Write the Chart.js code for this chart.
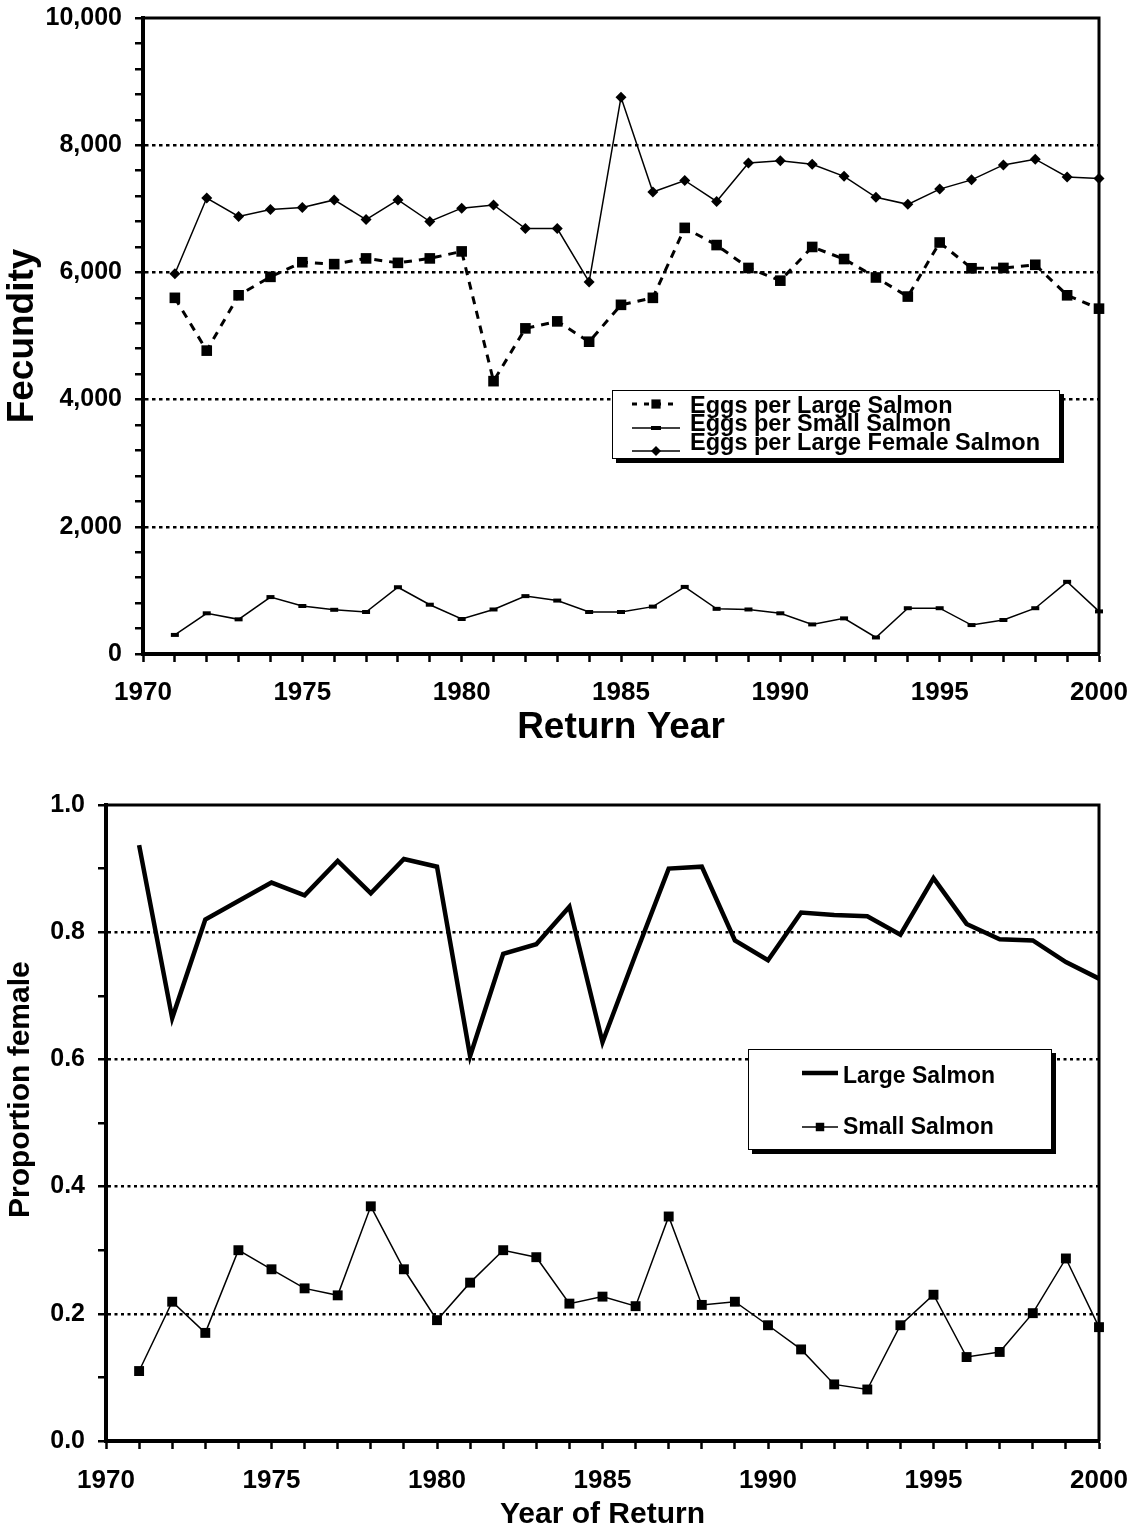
<!DOCTYPE html>
<html>
<head>
<meta charset="utf-8">
<script src="https://cdn.jsdelivr.net/npm/chart.js@4.4.1/dist/chart.umd.min.js"></script>
<style>
html,body{margin:0;padding:0;background:#fff;}
#wrap{position:relative;width:1134px;height:1533px;background:#fff;}
.holder{position:absolute;left:0;width:1134px;}
canvas{display:block;}
</style>
</head>
<body>
<div id="wrap">
  <div class="holder" style="top:0;height:770px;"><canvas id="c1" width="1134" height="770"></canvas></div>
  <div class="holder" style="top:770px;height:763px;"><canvas id="c2" width="1134" height="763"></canvas></div>
</div>
<script>
// ---------- DATA ----------
const years = [1971,1972,1973,1974,1975,1976,1977,1978,1979,1980,
               1981,1982,1983,1984,1985,1986,1987,1988,1989,1990,
               1991,1992,1993,1994,1995,1996,1997,1998,1999,2000];

// Top chart: fecundity (eggs)
const eggsPerLargeSalmon = [5600,4770,5640,5930,6160,6130,6220,6150,6220,6330,
                            4290,5120,5230,4910,5490,5600,6700,6430,6070,5870,
                            6400,6210,5920,5620,6470,6065,6070,6120,5640,5430];
const eggsPerSmallSalmon = [300,640,545,895,755,695,660,1050,775,550,
                            700,910,840,660,660,745,1055,710,700,640,
                            465,560,260,720,720,455,535,720,1135,670];
const eggsPerLargeFemaleSalmon = [5980,7170,6880,6990,7020,7140,6830,7140,6800,7010,
                                  7060,6690,6690,5850,8755,7265,7445,7115,7720,7755,
                                  7700,7510,7180,7070,7310,7455,7690,7780,7500,7475];

// Bottom chart: proportion female
const propFemaleLarge = [0.937,0.665,0.820,0.849,0.878,0.858,0.912,0.861,0.915,0.903,
                         0.605,0.766,0.781,0.840,0.627,0.765,0.900,0.903,0.787,0.756,
                         0.831,0.827,0.825,0.796,0.885,0.813,0.789,0.787,0.753,0.727];
const propFemaleSmall = [0.110,0.219,0.170,0.300,0.270,0.240,0.229,0.369,0.270,0.190,
                         0.249,0.300,0.289,0.216,0.227,0.212,0.353,0.214,0.219,0.182,
                         0.144,0.089,0.081,0.182,0.230,0.132,0.140,0.201,0.287,0.179];

// Axis tick definitions
const xMin = 1970, xMax = 2000, xLabelEvery = 5;
const fecMin = 0, fecMax = 10000, fecMinorStep = 400, fecMajorStep = 2000;
const propMin = 0, propMax = 1, propMinorStep = 0.1, propMajorEvery = 2;

// ---------- HELPERS ----------
const FONT = '"Liberation Sans", Arial, Helvetica, sans-serif';
Chart.defaults.font.family = FONT;
Chart.defaults.color = '#000';

const pts = (arr) => years.map((y, i) => ({x: y, y: arr[i]}));

function noPad(s) { s.paddingTop = 0; s.paddingBottom = 0; s.paddingLeft = 0; s.paddingRight = 0; }

function drawMarker(ctx, style, x, y, r, bw) {
  ctx.save();
  ctx.fillStyle = '#000';
  ctx.strokeStyle = '#000';
  ctx.setLineDash([]);
  ctx.beginPath();
  if (style === 'rect') {
    const s = r * Math.SQRT1_2;
    ctx.rect(x - s, y - s, 2 * s, 2 * s);
    ctx.fill();
  } else if (style === 'rectRot') {
    ctx.moveTo(x - r, y); ctx.lineTo(x, y - r); ctx.lineTo(x + r, y); ctx.lineTo(x, y + r);
    ctx.closePath(); ctx.fill();
  } else if (style === 'line') {
    ctx.lineWidth = bw;
    ctx.moveTo(x - r, y); ctx.lineTo(x + r, y); ctx.stroke();
  }
  ctx.restore();
}

// frame (top & right border) plugin
const framePlugin = {
  id: 'frame',
  beforeDatasetsDraw(chart, args, opts) {
    const {ctx, chartArea: a} = chart;
    ctx.save();
    ctx.strokeStyle = '#000';
    ctx.lineWidth = opts.width || 3;
    ctx.beginPath();
    ctx.moveTo(a.left, a.top);
    ctx.lineTo(a.right, a.top);
    ctx.lineTo(a.right, a.bottom);
    ctx.stroke();
    ctx.restore();
  }
};

// boxed legend plugin (labels/styles taken from the datasets)
const boxLegendPlugin = {
  id: 'boxLegend',
  afterDraw(chart, args, o) {
    const ctx = chart.ctx;
    ctx.save();
    ctx.fillStyle = '#000';
    ctx.fillRect(o.x + o.shadow, o.y + o.shadow, o.w, o.h);
    ctx.fillStyle = '#fff';
    ctx.fillRect(o.x, o.y, o.w, o.h);
    ctx.strokeStyle = '#000';
    ctx.lineWidth = 1;
    ctx.strokeRect(o.x + 0.5, o.y + 0.5, o.w - 1, o.h - 1);
    chart.data.datasets.forEach((ds, i) => {
      const row = o.rows[i];
      ctx.save();
      ctx.strokeStyle = '#000';
      ctx.lineWidth = ds.borderWidth;
      ctx.setLineDash(ds.legendDash || []);
      ctx.beginPath();
      ctx.moveTo(o.sx1, row.sy);
      ctx.lineTo(o.sx2, row.sy);
      ctx.stroke();
      ctx.restore();
      if (ds.pointRadius > 0) {
        drawMarker(ctx, ds.pointStyle, (o.sx1 + o.sx2) / 2, row.sy, ds.legendRadius || ds.pointRadius, ds.pointBorderWidth);
      }
      ctx.fillStyle = '#000';
      ctx.font = 'bold ' + o.fontSize + 'px ' + FONT;
      ctx.textBaseline = 'alphabetic';
      ctx.textAlign = 'left';
      ctx.fillText(ds.label, o.tx, row.ty);
    });
    ctx.restore();
  }
};

// ---------- TOP CHART ----------
new Chart(document.getElementById('c1'), {
  type: 'line',
  data: {
    datasets: [
      {
        label: 'Eggs per Large Salmon',
        data: pts(eggsPerLargeSalmon),
        borderColor: '#000', backgroundColor: '#000',
        borderWidth: 3, borderDash: [8, 7], legendDash: [5, 7],
        pointStyle: 'rect', pointRadius: 7.5, pointBorderWidth: 0, legendRadius: 6.5,
        tension: 0, clip: false
      },
      {
        label: 'Eggs per Small Salmon',
        data: pts(eggsPerSmallSalmon),
        borderColor: '#000', backgroundColor: '#000',
        borderWidth: 1.5,
        pointStyle: 'line', pointRadius: 4, pointBorderWidth: 4, legendRadius: 5,
        tension: 0, clip: false
      },
      {
        label: 'Eggs per Large Female Salmon',
        data: pts(eggsPerLargeFemaleSalmon),
        borderColor: '#000', backgroundColor: '#000',
        borderWidth: 1.5,
        pointStyle: 'rectRot', pointRadius: 5.5, pointBorderWidth: 0, legendRadius: 5,
        tension: 0, clip: false
      }
    ]
  },
  options: {
    responsive: false,
    animation: false,
    events: [],
    layout: {padding: {top: 18, right: 35, left: 0, bottom: 0}},
    plugins: {
      legend: {display: false},
      tooltip: {enabled: false},
      frame: {width: 3},
      boxLegend: {
        x: 612, y: 390, w: 448, h: 69, shadow: 4,
        sx1: 632, sx2: 680, tx: 690, fontSize: 23.5,
        rows: [{sy: 404, ty: 413}, {sy: 428, ty: 431}, {sy: 451, ty: 450}]
      }
    },
    scales: {
      x: {
        type: 'linear', min: xMin, max: xMax,
        afterFit: (s) => { s.height = 116; noPad(s); },
        ticks: {
          stepSize: 1, autoSkip: false, maxRotation: 0, padding: 15,
          color: '#000', font: {size: 26, weight: 'bold'},
          callback: (v) => (v % xLabelEvery === 0 ? String(v) : '')
        },
        grid: {drawOnChartArea: false, tickLength: 8, tickWidth: 2.5, tickColor: '#000', color: '#000'},
        border: {display: true, color: '#000', width: 4},
        title: {display: true, text: 'Return Year', color: '#000', font: {size: 37, weight: 'bold'}, padding: {top: 0, bottom: 20}}
      },
      y: {
        min: fecMin, max: fecMax,
        afterFit: (s) => { s.width = 143; noPad(s); },
        ticks: {
          stepSize: fecMinorStep, autoSkip: false, padding: 13,
          color: '#000', font: {size: 25, weight: 'bold'},
          callback: (v) => (v % fecMajorStep === 0 ? v.toLocaleString('en-US') : '')
        },
        grid: {
          color: (c) => (c.tick && c.tick.value % fecMajorStep === 0 && c.tick.value > fecMin && c.tick.value < fecMax) ? '#000' : 'rgba(0,0,0,0)',
          lineWidth: 2.5, tickLength: 8, tickWidth: 2.5, tickColor: '#000'
        },
        border: {display: true, color: '#000', width: 4, dash: [3.5, 3.5]},
        title: {display: true, text: 'Fecundity', color: '#000', font: {size: 37, weight: 'bold'}, padding: {top: 1, bottom: 0}}
      }
    }
  },
  plugins: [framePlugin, boxLegendPlugin]
});

// ---------- BOTTOM CHART ----------
new Chart(document.getElementById('c2'), {
  type: 'line',
  data: {
    datasets: [
      {
        label: 'Large Salmon',
        data: pts(propFemaleLarge),
        borderColor: '#000', backgroundColor: '#000',
        borderWidth: 4.5, pointRadius: 0, pointStyle: 'rect',
        tension: 0, clip: false
      },
      {
        label: 'Small Salmon',
        data: pts(propFemaleSmall),
        borderColor: '#000', backgroundColor: '#000',
        borderWidth: 1.5,
        pointStyle: 'rect', pointRadius: 7, pointBorderWidth: 0, legendRadius: 6,
        tension: 0, clip: false
      }
    ]
  },
  options: {
    responsive: false,
    animation: false,
    events: [],
    layout: {padding: {top: 35, right: 35, left: 0, bottom: 0}},
    plugins: {
      legend: {display: false},
      tooltip: {enabled: false},
      frame: {width: 3},
      boxLegend: {
        x: 748, y: 279, w: 304, h: 101, shadow: 4,
        sx1: 802, sx2: 838, tx: 843, fontSize: 23,
        rows: [{sy: 303, ty: 313}, {sy: 357, ty: 364}]
      }
    },
    scales: {
      x: {
        type: 'linear', min: xMin, max: xMax,
        afterFit: (s) => { s.height = 92; noPad(s); },
        ticks: {
          stepSize: 1, autoSkip: false, maxRotation: 0, padding: 16,
          color: '#000', font: {size: 26, weight: 'bold'},
          callback: (v) => (v % xLabelEvery === 0 ? String(v) : '')
        },
        grid: {drawOnChartArea: false, tickLength: 8, tickWidth: 2.5, tickColor: '#000', color: '#000'},
        border: {display: true, color: '#000', width: 4},
        title: {display: true, text: 'Year of Return', color: '#000', font: {size: 30, weight: 'bold'}, padding: {top: 0, bottom: 0}}
      },
      y: {
        min: propMin, max: propMax,
        afterFit: (s) => { s.width = 106; noPad(s); },
        ticks: {
          stepSize: propMinorStep, autoSkip: false, padding: 13,
          color: '#000', font: {size: 25, weight: 'bold'},
          callback: (v) => { const r = Math.round(v * 10); return r % propMajorEvery === 0 ? (r / 10).toFixed(1) : ''; }
        },
        grid: {
          color: (c) => { if (!c.tick) return 'rgba(0,0,0,0)'; const r = Math.round(c.tick.value * 10); return (r % propMajorEvery === 0 && r > 0 && r < 10) ? '#000' : 'rgba(0,0,0,0)'; },
          lineWidth: 2.5, tickLength: 8, tickWidth: 2.5, tickColor: '#000'
        },
        border: {display: true, color: '#000', width: 4, dash: [3, 3.5]},
        title: {display: true, text: '        Proportion female', color: '#000', font: {size: 30, weight: 'bold'}, align: 'center', padding: {top: 3, bottom: 0}}
      }
    }
  },
  plugins: [framePlugin, boxLegendPlugin]
});
</script>
</body>
</html>
